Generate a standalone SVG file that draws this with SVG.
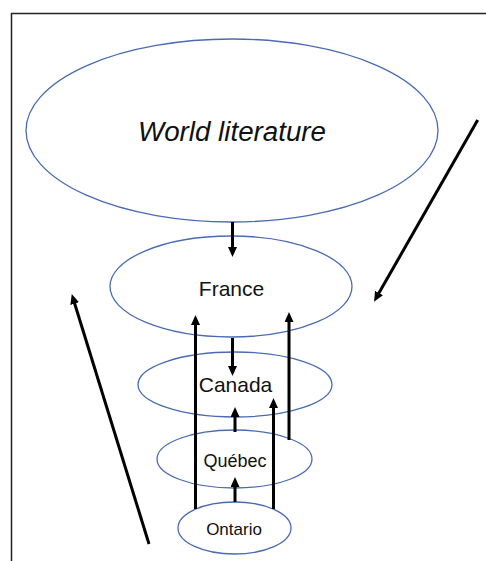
<svg xmlns="http://www.w3.org/2000/svg" width="486" height="561" viewBox="0 0 486 561">
<defs>
<marker id="ah" markerUnits="userSpaceOnUse" markerWidth="10" markerHeight="9" refX="3" refY="4.5" orient="auto">
<path d="M0,0 L10,4.5 L0,9 z" fill="#000"/>
</marker>
<style>
.node ellipse{fill:#fff;stroke:#4a6bb0;stroke-width:1.3}
.node text{font-family:"Liberation Sans",Arial,sans-serif;fill:#111;text-anchor:middle}
.conn line{stroke:#000;stroke-width:3;marker-end:url(#ah)}
</style>
</defs>
<rect width="486" height="561" fill="#fff"/>
<path d="M11.5,561 V13.5 H486" fill="none" stroke="#222" stroke-width="1.5"/>
<g id="world" class="node"><ellipse cx="232" cy="130.5" rx="206" ry="91.5"/><text x="232" y="141" font-size="27" font-style="italic" textLength="188" lengthAdjust="spacingAndGlyphs">World literature</text></g>
<g id="france" class="node"><ellipse cx="231" cy="286.5" rx="121" ry="50.5"/><text x="231.5" y="296" font-size="21">France</text></g>
<g id="canada" class="node"><ellipse cx="235" cy="384.5" rx="97" ry="32.5"/><text x="235.5" y="392" font-size="21">Canada</text></g>
<g id="quebec" class="node"><ellipse cx="234.5" cy="459" rx="77.5" ry="29"/><text x="235" y="467" font-size="18">Québec</text></g>
<g id="ontario" class="node"><ellipse cx="234.5" cy="528" rx="56.5" ry="26"/><text x="234" y="535" font-size="17">Ontario</text></g>
<g id="connectors" class="conn">
<line x1="232.5" y1="222" x2="232.5" y2="250"/>
<line x1="232.5" y1="338" x2="232.5" y2="369"/>
<line x1="235" y1="432" x2="235" y2="414"/>
<line x1="235" y1="502" x2="235" y2="484"/>
<line x1="195.5" y1="509" x2="195.5" y2="322"/>
<line x1="289" y1="440" x2="289" y2="319"/>
<line x1="273.5" y1="509" x2="273.5" y2="405"/>
<line x1="477.7" y1="120" x2="377.5" y2="295.6"/>
<line x1="149" y1="544" x2="73.8" y2="300.7"/>
</g>
</svg>
